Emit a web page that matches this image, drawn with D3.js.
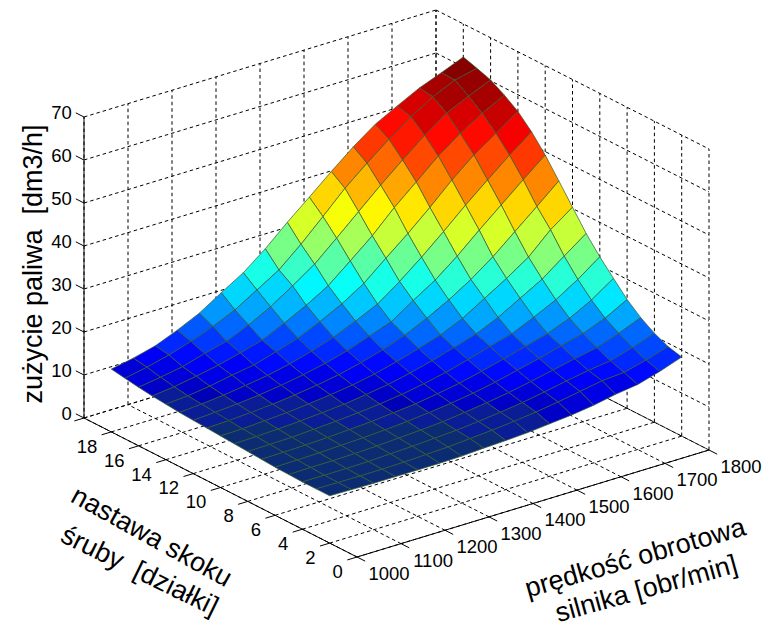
<!DOCTYPE html>
<html><head><meta charset="utf-8">
<style>html,body{margin:0;padding:0;background:#fff}svg{display:block}text{font-family:"Liberation Sans",Arial,sans-serif;fill:#000}</style>
<script src="https://cdn.jsdelivr.net/npm/d3@7"></script></head><body>
<svg id="c" width="776" height="627"></svg>
<script>
const speedValues=[1000,1050,1100,1150,1200,1250,1300,1350,1400,1450,1500,1550,1600,1650,1700,1750,1800];
const pitchValues=[2,3,4,5,6,7,8,9,10,11,12,13,14,15,16,17,18];
const fuel02=[11.0,10.9,10.8,10.8,10.8,10.8,10.9,11.2,11.4,11.7,12.2,12.7,13.4,14.4,15.1,16.6,18.4];
const fuel03=[11.0,10.9,10.9,10.9,11.0,11.2,11.4,11.8,12.2,12.7,13.3,14.1,15.0,15.9,16.3,17.6,19.2];
const fuel04=[11.0,11.0,11.0,11.1,11.3,11.5,11.8,12.1,12.6,13.2,13.9,14.8,15.8,16.7,17.4,18.9,20.7];
const fuel05=[11.1,11.2,11.2,11.3,11.5,11.8,12.1,12.5,13.1,13.8,14.6,15.6,16.7,17.8,18.8,20.6,22.7];
const fuel06=[11.2,11.3,11.4,11.6,11.8,12.1,12.5,13.0,13.6,14.4,15.4,16.6,17.8,19.2,20.5,22.5,25.3];
const fuel07=[11.4,11.5,11.6,11.8,12.1,12.4,12.9,13.4,14.2,15.1,16.3,17.6,19.0,20.4,22.4,25.1,28.6];
const fuel08=[11.6,11.7,11.8,12.1,12.4,12.8,13.3,14.0,14.9,16.0,17.4,18.9,20.3,22.6,25.1,28.3,32.0];
const fuel09=[11.8,11.9,12.1,12.4,12.8,13.2,13.9,14.7,15.8,17.1,18.6,20.2,22.5,25.4,28.3,32.1,35.8];
const fuel10=[12.0,12.1,12.4,12.7,13.2,13.8,14.5,15.5,16.8,18.3,19.9,22.2,25.3,28.4,31.8,36.6,40.3];
const fuel11=[12.2,12.4,12.7,13.1,13.7,14.4,15.3,16.5,18.0,19.8,22.2,24.9,28.1,31.8,36.1,40.4,44.8];
const fuel12=[12.4,12.7,13.1,13.6,14.3,15.2,16.3,17.7,19.5,21.3,24.7,27.9,31.9,36.4,40.7,45.0,49.2];
const fuel13=[12.6,13.0,13.5,14.2,15.0,16.1,17.5,19.2,21.4,23.8,27.5,31.6,36.0,40.6,44.9,49.1,53.0];
const fuel14=[12.9,13.3,14.0,15.0,15.8,17.3,18.9,21.2,23.8,27.0,31.3,35.5,40.0,44.8,49.1,52.6,56.1];
const fuel15=[13.2,13.8,14.7,15.7,17.0,18.4,20.8,23.4,26.4,30.6,34.9,39.9,44.3,48.8,52.5,55.6,58.3];
const fuel16=[13.6,14.4,15.3,16.8,18.1,20.3,23.0,26.3,29.8,34.3,38.9,43.5,47.8,52.0,55.6,58.0,60.2];
const fuel17=[14.1,15.1,16.4,18.0,19.9,22.2,25.3,28.4,32.8,37.7,42.7,47.0,51.0,54.7,57.8,60.1,61.3];
const fuel18=[14.6,15.6,16.9,19.0,21.4,24.6,27.7,31.7,36.3,40.6,45.0,49.2,52.9,55.6,58.2,60.2,62.3];
const fuelRows=[fuel02,fuel03,fuel04,fuel05,fuel06,fuel07,fuel08,fuel09,fuel10,fuel11,fuel12,fuel13,fuel14,fuel15,fuel16,fuel17,fuel18];
const xTicks=[1000,1100,1200,1300,1400,1500,1600,1700,1800];
const yTicks=[0,2,4,6,8,10,12,14,16,18,20];
const yTickLabels=[0,2,4,6,8,10,12,14,16,18];
const zTicks=[0,10,20,30,40,50,60,70];

const ox=357, oy=557;
const xDomain=[1000,1800], yDomain=[0,20], zDomain=[0,70];
const xSX=d3.scaleLinear().domain(xDomain).range([0,352]);
const xSY=d3.scaleLinear().domain(xDomain).range([0,-107]);
const ySX=d3.scaleLinear().domain(yDomain).range([0,-273]);
const ySY=d3.scaleLinear().domain(yDomain).range([0,-139]);
const zSY=d3.scaleLinear().domain(zDomain).range([0,-301]);
const P=(x,y,z)=>[ox+xSX(x)+ySX(y), oy+xSY(x)+ySY(y)+zSY(z)];

const jet=t=>{const c=v=>Math.round(255*Math.max(0,Math.min(1,v)));
  const f=4*t;return `rgb(${c(Math.min(f-1.5,-f+4.5))},${c(Math.min(f-0.5,-f+3.5))},${c(Math.min(f+0.5,-f+2.5))})`;};
const allZ=fuelRows.flat();
const color=d3.scaleQuantize().domain(d3.extent(allZ)).range(d3.range(64).map(i=>jet((i+0.5)/64)));
const navyFill=z=>z<12.6?"#0b2c72":z<14.0?"#0a1c96":color(z);

const svg=d3.select("#c");
const line=d3.line();
const gGrid=svg.append("g").attr("fill","none").attr("stroke","#000").attr("stroke-width",1).attr("stroke-dasharray","3.5,3");
const gridSegs=[];
xTicks.forEach(x=>{gridSegs.push([P(x,0,0),P(x,20,0)]);gridSegs.push([P(x,20,0),P(x,20,70)]);});
yTicks.forEach(y=>{gridSegs.push([P(1000,y,0),P(1800,y,0)]);gridSegs.push([P(1800,y,0),P(1800,y,70)]);});
zTicks.forEach(z=>{gridSegs.push([P(1000,20,z),P(1800,20,z)]);gridSegs.push([P(1800,20,z),P(1800,0,z)]);});
gGrid.selectAll("path").data(gridSegs).join("path").attr("d",line);

// surface, back to front; each facet takes the colour of its far corner
const faces=[];
for(let j=0;j<pitchValues.length-1;j++)for(let i=0;i<speedValues.length-1;i++){
  faces.push({i,j,pts:[[i,j],[i+1,j],[i+1,j+1],[i,j+1]].map(([a,b])=>P(speedValues[a],pitchValues[b],fuelRows[b][a])),z:fuelRows[j+1][i+1]});
}
faces.sort((a,b)=>(b.i+b.j)-(a.i+a.j));
svg.append("g").selectAll("path").data(faces).join("path")
  .attr("d",d=>line(d.pts)+"Z").attr("fill",d=>navyFill(d.z))
  .attr("stroke","rgb(55,90,50)").attr("stroke-opacity",0.8).attr("stroke-width",0.9).attr("stroke-linejoin","round");

// solid axes
const gAxes=svg.append("g").attr("fill","none").attr("stroke","#000").attr("stroke-width",1);
const axisSegs=[[P(1000,20,0),P(1000,20,70)],[P(1000,20,0),P(1000,0,0)],[P(1000,0,0),P(1800,0,0)]];
xTicks.forEach(x=>axisSegs.push([P(x,0,0),P(x,-0.6,0)]));
yTicks.forEach(y=>axisSegs.push([P(1000,y,0),P(978,y,0)]));
zTicks.forEach(z=>axisSegs.push([P(1000,20,z),P(1000,20.6,z)]));
gAxes.selectAll("path").data(axisSegs).join("path").attr("d",line);

const tick=svg.append("g").attr("font-size",18.5);
tick.selectAll(".xl").data(xTicks).join("text").attr("class","xl")
  .attr("x",d=>P(d,-2.35,0)[0]).attr("y",d=>P(d,-2.35,0)[1]).attr("dy","0.36em").attr("text-anchor","middle").text(d=>d);
tick.selectAll(".yl").data(yTickLabels).join("text").attr("class","yl")
  .attr("x",d=>P(968,d,-2.3)[0]).attr("y",d=>P(968,d,-2.3)[1]).attr("dy","0.36em").attr("text-anchor","end").text(d=>d);
tick.selectAll(".zl").data(zTicks).join("text").attr("class","zl")
  .attr("x",d=>P(1000,20.9,d-0.4)[0]).attr("y",d=>P(1000,20.9,d-0.4)[1]).attr("dy","0.36em").attr("text-anchor","end").text(d=>d);

const titles=[
 {t:"zużycie paliwa  [dm3/h]",x:33,y:264,a:-90},
 {t:"nastawa skoku",x:152,y:536,a:29},
 {t:"śruby  [działki]",x:140,y:570,a:26},
 {t:"prędkość obrotowa",x:635,y:557,a:-16},
 {t:"silnika [obr/min]",x:646,y:588,a:-15.5}];
svg.append("g").attr("font-size",27).selectAll("text").data(titles).join("text")
  .attr("transform",d=>`translate(${d.x},${d.y}) rotate(${d.a})`).attr("dy","0.35em").attr("text-anchor","middle")
  .style("white-space","pre").text(d=>d.t);
</script></body></html>
